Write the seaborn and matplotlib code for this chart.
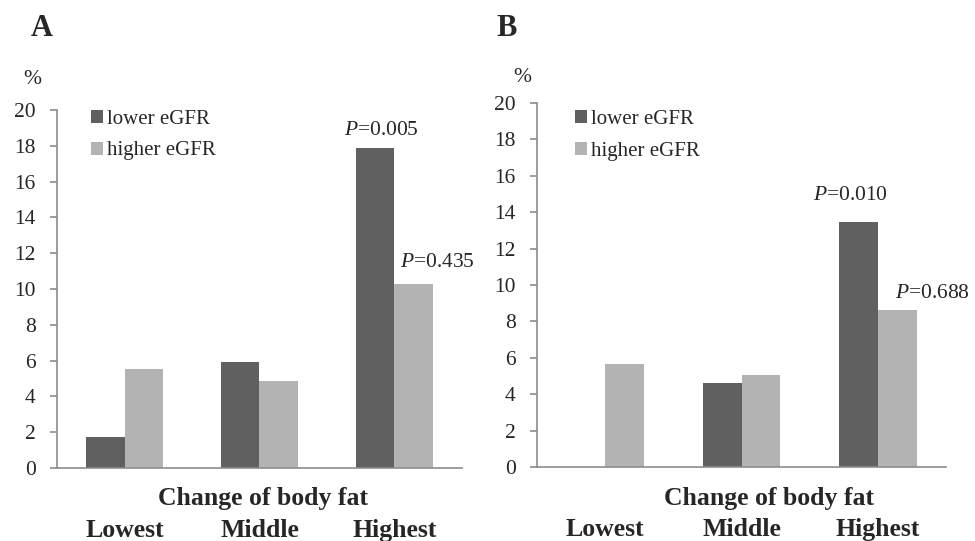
import pandas as pd
import matplotlib
matplotlib.use("Agg")
import matplotlib.pyplot as plt
import seaborn as sns

categories = ["Lowest", "Middle", "Highest"]
groups = ["lower eGFR", "higher eGFR"]

a_lower = [1.75, 5.94, 17.9]
a_higher = [5.55, 4.88, 10.3]
b_lower = [0.0, 4.63, 13.47]
b_higher = [5.64, 5.05, 8.64]

a_pvalues = ["$P$=0.005", "$P$=0.435"]
b_pvalues = ["$P$=0.010", "$P$=0.688"]

yticks = list(range(0, 21, 2))
colors = ["#606060", "#b3b3b3"]


def to_long(lower, higher):
    return pd.DataFrame({
        "category": categories * 2,
        "group": [groups[0]] * 3 + [groups[1]] * 3,
        "pct": lower + higher,
    })


sns.set_style("white")
plt.rcParams["font.family"] = ["Liberation Serif", "DejaVu Serif"]
plt.rcParams["mathtext.fontset"] = "custom"
plt.rcParams["mathtext.rm"] = "Liberation Serif"
plt.rcParams["mathtext.it"] = "Liberation Serif:italic"

fig = plt.figure(figsize=(9.75, 5.41), dpi=100)
ax_a = fig.add_axes([0.0585, 0.1349, 0.4153, 0.6618])
ax_b = fig.add_axes([0.5508, 0.1368, 0.4195, 0.6728])

axis_grey = "#8c8c8c"


def draw_panel(ax, lower, higher, pvalues, p_offsets, legend_anchor, xlabel_x):
    df = to_long(lower, higher)
    sns.barplot(data=df, x="category", y="pct", hue="group", order=categories,
                hue_order=groups, palette=colors, saturation=1, width=0.57,
                linewidth=0, ax=ax)

    ax.set_xlim(-0.5, 2.5)
    ax.set_ylim(0, 20)
    ax.set_yticks(yticks)
    ax.set_xticks(range(len(categories)))
    ax.set_xticklabels(categories, fontsize=18.5, fontweight="bold")
    ax.set_xticks([-0.5, 0.5, 1.5, 2.5], minor=True)
    ax.tick_params(axis="x", which="major", length=0, pad=37)
    ax.tick_params(axis="x", which="minor", length=6, width=1.2, color=axis_grey, direction="out")
    ax.tick_params(axis="y", length=5, width=1.2, color=axis_grey, direction="out",
                   labelsize=15.5, pad=10.5, left=True)
    ax.set_xlabel("")
    ax.set_ylabel("")
    for side in ["top", "right"]:
        ax.spines[side].set_visible(False)
    for side in ["left", "bottom"]:
        ax.spines[side].set_color(axis_grey)
        ax.spines[side].set_linewidth(1.2)

    ax.text(xlabel_x, -0.086, "Change of body fat", transform=ax.transAxes,
            ha="center", va="center", fontsize=18.5, fontweight="bold")

    # p-values over the "Highest" bars of each group
    for container, text, (dx, dy) in zip(ax.containers, pvalues, p_offsets):
        bar = container.patches[-1]
        ax.annotate(text, xy=(bar.get_x() + bar.get_width() / 2, bar.get_height()),
                    xytext=(dx, dy), textcoords="offset points",
                    ha="center", va="center", fontsize=15.5)

    handles, labels = ax.get_legend_handles_labels()
    ax.legend(handles, labels, loc="upper left", bbox_to_anchor=legend_anchor,
              frameon=False, fontsize=15, handlelength=0.58, handleheight=0.58,
              handletextpad=0.2, labelspacing=0.6, borderpad=0, borderaxespad=0)


draw_panel(ax_a, a_lower, a_higher, a_pvalues, [(4.3, 12), (17, 15)], (0.084, 1.0), 0.508)
draw_panel(ax_b, b_lower, b_higher, b_pvalues, [(-5.8, 18.7), (25.5, 12)], (0.093, 0.98), 0.567)

fig.text(41.5 / 975, 1 - 28 / 541, "A", ha="center", va="center", fontsize=22, fontweight="bold")
fig.text(506.5 / 975, 1 - 28.5 / 541, "B", ha="center", va="center", fontsize=22, fontweight="bold")
fig.text(32 / 975, 1 - 79 / 541, "%", ha="center", va="center", fontsize=15.5)
fig.text(522 / 975, 1 - 77 / 541, "%", ha="center", va="center", fontsize=15.5)

fig.savefig("out.png", dpi=100)
